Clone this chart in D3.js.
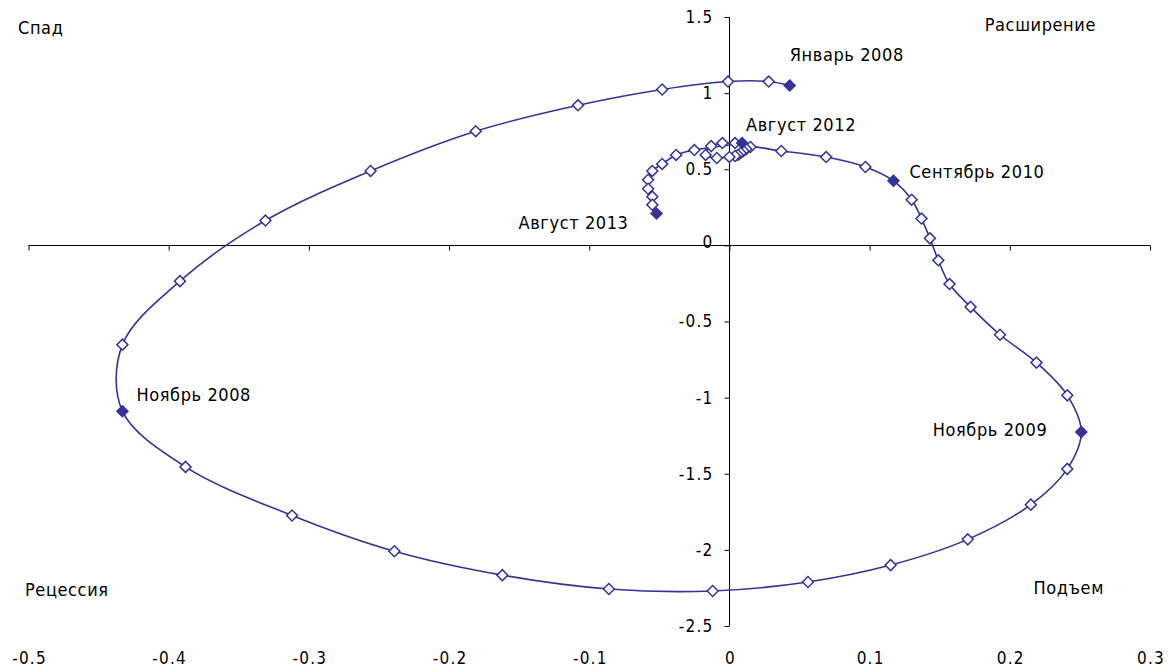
<!DOCTYPE html>
<html>
<head>
<meta charset="utf-8">
<script src="https://cdn.jsdelivr.net/npm/d3@7"></script>
<style>
  body { margin: 0; background: #fff; }
  text { font-family: "DejaVu Sans Condensed", "DejaVu Sans", sans-serif; fill: #000; }
</style>
</head>
<body>
<script>
// monthly points, Jan 2008 .. Aug 2013
var xVals = [0.043, 0.028, -0.001, -0.048, -0.108, -0.181, -0.256, -0.331, -0.392, -0.433,
  -0.433, -0.388, -0.312, -0.239, -0.162, -0.086, -0.012, 0.056, 0.115, 0.170, 0.215, 0.241,
  0.251, 0.241, 0.219, 0.193, 0.172, 0.157, 0.149, 0.143, 0.137, 0.130,
  0.117, 0.097, 0.069, 0.037, 0.015, 0.012, 0.010, 0.008, 0.006, 0.004, 0.000, -0.009, -0.017,
  -0.013, -0.005, 0.004,
  0.009, -0.025, -0.038, -0.048, -0.055, -0.058, -0.058, -0.055, -0.055, -0.052];
var yVals = [1.050, 1.076, 1.076, 1.024, 0.920, 0.750, 0.489, 0.163, -0.235, -0.652,
  -1.089, -1.455, -1.774, -2.009, -2.166, -2.257, -2.270, -2.211, -2.100, -1.931, -1.703, -1.468,
  -1.226, -0.985, -0.770, -0.587, -0.404, -0.254, -0.098, 0.046, 0.176, 0.300,
  0.424, 0.515, 0.580, 0.620, 0.646, 0.633, 0.620, 0.607, 0.594, 0.587, 0.581, 0.574, 0.594,
  0.652, 0.672, 0.672,
  0.672, 0.626, 0.594, 0.535, 0.489, 0.431, 0.372, 0.320, 0.267, 0.209];

// highlighted months: index into the series and their captions
var keyIdx = [0, 10, 22, 32, 48, 57];
var keyNames = ["Январь 2008", "Ноябрь 2008", "Ноябрь 2009", "Сентябрь 2010", "Август 2012", "Август 2013"];

var xTicks = [-0.5, -0.4, -0.3, -0.2, -0.1, 0, 0.1, 0.2, 0.3];
var yTicks = [-2.5, -2, -1.5, -1, -0.5, 0, 0.5, 1, 1.5];
var quadrants = ["Спад", "Расширение", "Рецессия", "Подъем"];

var blue = "#333399";

var svg = d3.select("body").append("svg")
  .attr("width", 1172)
  .attr("height", 668);

var x = d3.scaleLinear().domain([-0.5, 0.3]).range([28.5, 1150]);
var y = d3.scaleLinear().domain([-2.5, 1.5]).range([626, 17]);

var fmt = function(d) { return d === 0 ? "0" : String(d); };

// horizontal axis through y = 0
var gx = svg.append("g")
  .attr("transform", "translate(0," + Math.round(y(0)) + ".5)")
  .call(d3.axisBottom(x).tickValues(xTicks).tickSize(5).tickFormat(""));
gx.select(".domain").attr("d", "M" + x(-0.5) + ",0H" + x(0.3));

// x tick labels sit at the bottom
svg.append("g").selectAll("text")
  .data(xTicks)
  .join("text")
  .attr("x", d => x(d) + 1)
  .attr("y", 664)
  .attr("text-anchor", "middle")
  .style("font-size", "17px")
  .style("letter-spacing", "1.2px")
  .text(fmt);

// vertical axis through x = 0
var gy = svg.append("g")
  .attr("transform", "translate(" + Math.round(x(0)) + ".5,0)")
  .call(d3.axisLeft(y).tickValues(yTicks).tickSize(5).tickPadding(11).tickFormat(fmt));
gy.select(".domain").attr("d", "M0," + y(1.5) + "V" + y(-2.5));
gy.selectAll("text")
  .style("font-size", "17px")
  .style("letter-spacing", "1.2px")
  .style("font-family", "'DejaVu Sans Condensed', sans-serif");
gy.selectAll("text").filter(d => d === 0).attr("dy", "0.1em");
svg.selectAll(".domain, .tick line").attr("stroke", "#000");

// smoothed trajectory
var pts = xVals.map((v, i) => [v, yVals[i]]);
var line = d3.line()
  .x(d => x(d[0]))
  .y(d => y(d[1]))
  .curve(d3.curveCatmullRom.alpha(0.5));

svg.append("path")
  .datum(pts)
  .attr("d", line)
  .attr("fill", "none")
  .attr("stroke", blue)
  .attr("stroke-width", 1.6);

var diamond = d3.symbol(d3.symbolSquare, 60);

svg.append("g").selectAll("path")
  .data(pts)
  .join("path")
  .attr("d", diamond)
  .attr("transform", d => "translate(" + x(d[0]) + "," + y(d[1]) + ") rotate(45)")
  .attr("fill", (d, i) => keyIdx.indexOf(i) >= 0 ? blue : "#fff")
  .attr("stroke", blue)
  .attr("stroke-width", 1.5);

// captions for the highlighted months
var capDx = [0, 14, -34, 16, 4, -28];
var capDy = [-31, -16, -2, -9, -18, 9];
var capAnchor = ["start", "start", "end", "start", "start", "end"];
svg.append("g").selectAll("text")
  .data(keyIdx)
  .join("text")
  .attr("x", (d, i) => x(xVals[d]) + capDx[i])
  .attr("y", (d, i) => y(yVals[d]) + capDy[i])
  .attr("dy", "0.35em")
  .attr("text-anchor", (d, i) => capAnchor[i])
  .style("font-size", "18px")
  .style("letter-spacing", "0.6px")
  .text((d, i) => keyNames[i]);

// quadrant captions
var qx = [18, 1096, 25, 1104];
var qy = [28, 25, 590, 588];
var qa = ["start", "end", "start", "end"];
svg.append("g").selectAll("text")
  .data(quadrants)
  .join("text")
  .attr("x", (d, i) => qx[i])
  .attr("y", (d, i) => qy[i])
  .attr("dy", "0.35em")
  .attr("text-anchor", (d, i) => qa[i])
  .style("font-size", "18px")
  .style("letter-spacing", "0.6px")
  .text(d => d);
</script>
</body>
</html>
